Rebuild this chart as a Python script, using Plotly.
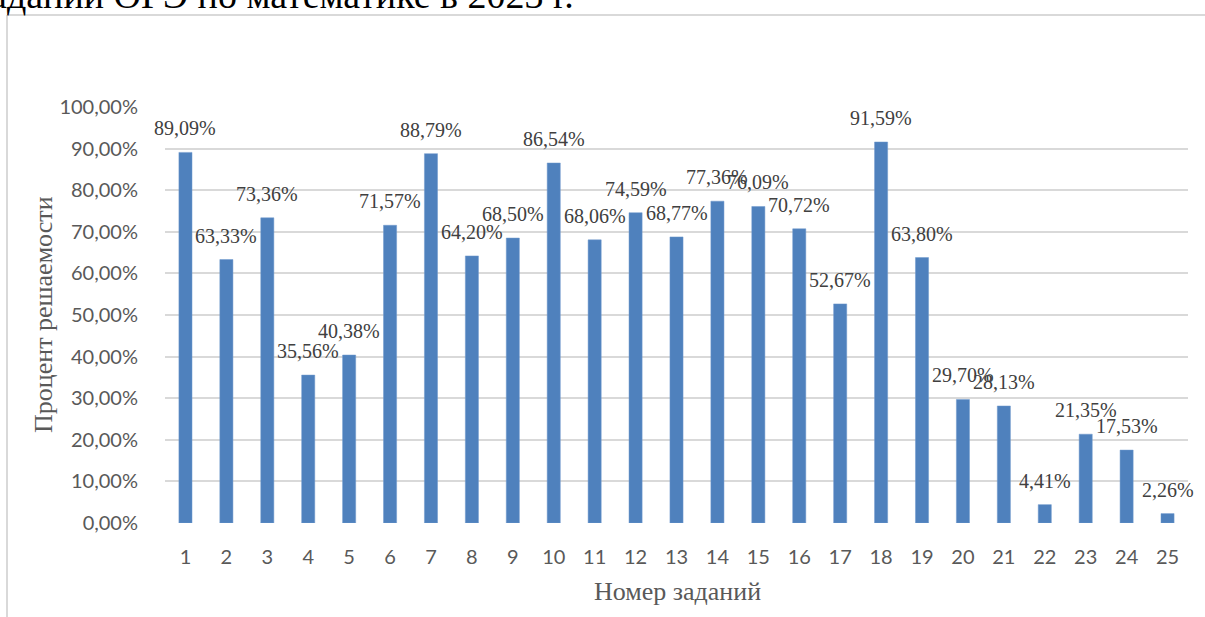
import plotly.graph_objects as go

# Task numbers and solve rates (%)
tasks = list(range(1, 26))
solve_rate = [89.09, 63.33, 73.36, 35.56, 40.38, 71.57, 88.79, 64.20, 68.50, 86.54,
              68.06, 74.59, 68.77, 77.36, 76.09, 70.72, 52.67, 91.59, 63.80, 29.70,
              28.13, 4.41, 21.35, 17.53, 2.26]
y_ticks = [0, 10, 20, 30, 40, 50, 60, 70, 80, 90, 100]
y_tick_text = [f"{v},00%" for v in y_ticks]

W, H = 1205, 617
L, R, T, B = 165, 17, 107, 94

BAR = "#4f81bd"
GRID = "#d9d9d9"
TICK = "#595959"
LABEL = "#404040"
SERIF = "Liberation Serif, Times New Roman, serif"
SANS = "Lato, Open Sans, sans-serif"


def fmt(v):
    return f"{v:.2f}".replace(".", ",") + "%"


def px_x(px):
    return (px - L) / (W - L - R)


def px_y(py):
    return (H - B - py) / (H - T - B)


fig = go.Figure(go.Bar(
    x=tasks, y=solve_rate,
    marker=dict(color=BAR, line=dict(color="#6f98cc", width=0.5)),
    width=0.32,
))

annotations = [
    dict(x=t, y=v, text=fmt(v), showarrow=False, xanchor="center", yanchor="bottom",
         yshift=11, font=dict(family=SERIF, size=20, color=LABEL))
    for t, v in zip(tasks, solve_rate)
]
# Axis titles
annotations.append(dict(xref="paper", yref="paper", x=px_x(43), y=px_y(315),
                        xanchor="center", yanchor="middle",
                        text="Процент решаемости", textangle=-90, showarrow=False,
                        font=dict(family=SERIF, size=26, color=TICK)))
annotations.append(dict(xref="paper", yref="paper", x=px_x(677), y=px_y(591),
                        xanchor="center", yanchor="middle",
                        text="Номер заданий", showarrow=False,
                        font=dict(family=SERIF, size=26, color=TICK)))
# Caption line of the surrounding document
annotations.append(dict(xref="paper", yref="paper", x=px_x(576), y=px_y(9),
                        xanchor="right", yanchor="bottom", yshift=-9,
                        text="заданий ОГЭ по математике в 2023 г.", showarrow=False,
                        font=dict(family=SERIF, size=38, color="#000000")))

fig.update_layout(
    width=W, height=H,
    margin=dict(l=L, r=R, t=T, b=B),
    paper_bgcolor="white", plot_bgcolor="white",
    showlegend=False,
    annotations=annotations,
    shapes=[
        dict(type="line", xref="paper", yref="paper",
             x0=px_x(7), x1=px_x(7), y0=px_y(15), y1=px_y(640),
             line=dict(color=GRID, width=2)),
        dict(type="line", xref="paper", yref="paper",
             x0=px_x(7), x1=px_x(1230), y0=px_y(15), y1=px_y(15),
             line=dict(color=GRID, width=2)),
    ],
    xaxis=dict(
        range=[0.5, 25.5], tickmode="array", tickvals=tasks,
        ticktext=[str(t) for t in tasks],
        showgrid=False, zeroline=False, showline=False,
        ticks="outside", ticklen=16, tickcolor="rgba(0,0,0,0)",
        tickfont=dict(family=SANS, size=20, color=TICK),
    ),
    yaxis=dict(
        range=[0, 100], tickvals=y_ticks, ticktext=y_tick_text,
        showgrid=True, gridcolor=GRID, gridwidth=2, zeroline=False, showline=False,
        ticks="outside", ticklen=22, tickcolor="rgba(0,0,0,0)",
        tickfont=dict(family=SANS, size=20, color=TICK),
    ),
)

fig.write_html("out.html")
